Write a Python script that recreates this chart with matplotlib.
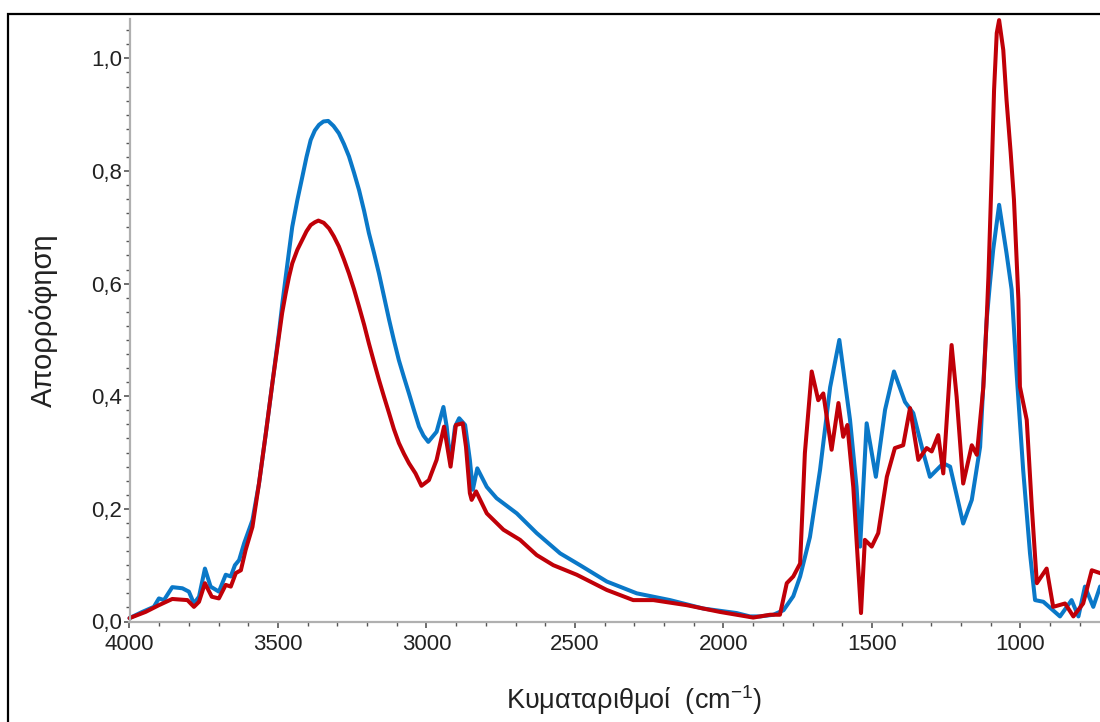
import numpy as np
import matplotlib
matplotlib.use("Agg")
import matplotlib.pyplot as plt
from matplotlib.patches import Rectangle
from matplotlib.ticker import MultipleLocator, FuncFormatter

plt.rcParams['font.family'] = ['Liberation Sans', 'DejaVu Sans']

# blue spectrum (wavenumber, absorbance)
blue_wn = [4000, 3957, 3918, 3901, 3884, 3856, 3822, 3800, 3783, 3766, 3746, 3727,
           3699, 3676, 3659, 3645, 3631, 3614, 3586, 3564, 3541, 3519, 3508, 3497,
           3486, 3474, 3463, 3452, 3435, 3418, 3404, 3390, 3376, 3362, 3347, 3331,
           3313, 3295, 3278, 3261, 3244, 3227, 3210, 3194, 3177, 3160, 3143, 3126,
           3110, 3093, 3076, 3059, 3042, 3025, 3010,
           2994, 2966, 2943, 2932, 2919, 2904, 2890, 2870, 2854, 2844,
           2829, 2797, 2764, 2696, 2629, 2550, 2483, 2393, 2292, 2180, 2068, 1956,
           1911, 1877, 1832, 1798, 1765, 1742, 1709, 1675, 1641, 1610, 1574, 1552,
           1540, 1518, 1487, 1456, 1426, 1389, 1361, 1327, 1305, 1260, 1237, 1193,
           1164, 1136, 1114, 1103, 1092, 1072, 1047, 1030, 1013, 991, 968, 951,
           923, 867, 828, 805, 783, 755, 732, 700]
blue_abs = [0.006, 0.017, 0.026, 0.041, 0.038, 0.061, 0.059, 0.053, 0.032, 0.044, 0.094, 0.062,
            0.053, 0.083, 0.080, 0.100, 0.109, 0.139, 0.180, 0.245, 0.334, 0.423, 0.468, 0.512,
            0.562, 0.612, 0.657, 0.701, 0.748, 0.790, 0.825, 0.855, 0.872, 0.882, 0.888, 0.889,
            0.880, 0.867, 0.848, 0.826, 0.797, 0.766, 0.729, 0.690, 0.655, 0.618, 0.577, 0.536,
            0.500, 0.464, 0.434, 0.405, 0.375, 0.346, 0.330,
            0.319, 0.337, 0.381, 0.346, 0.281, 0.346, 0.361, 0.349, 0.287, 0.234,
            0.272, 0.239, 0.219, 0.192, 0.157, 0.121, 0.100, 0.071, 0.050, 0.038, 0.023, 0.015,
            0.009, 0.009, 0.012, 0.020, 0.045, 0.080, 0.150, 0.269, 0.416, 0.500, 0.358, 0.239,
            0.133, 0.352, 0.257, 0.376, 0.444, 0.390, 0.370, 0.299, 0.257, 0.281, 0.275, 0.174,
            0.216, 0.310, 0.535, 0.600, 0.660, 0.740, 0.654, 0.590, 0.440, 0.269, 0.121, 0.038,
            0.035, 0.009, 0.038, 0.009, 0.062, 0.026, 0.062, 0.070]

# red spectrum (wavenumber, absorbance)
red_wn = [4000, 3946, 3901, 3856, 3805, 3783, 3766, 3746, 3723, 3699, 3676, 3659,
          3642, 3625, 3609, 3586, 3564, 3541, 3519, 3508, 3497, 3486, 3474, 3463,
          3452, 3435, 3418, 3404, 3390, 3376, 3364, 3346, 3328, 3312, 3295, 3278,
          3261, 3244, 3227, 3210, 3194, 3177, 3160, 3143, 3126, 3110, 3093, 3076,
          3059, 3048, 3037, 3017,
          2992, 2966, 2941, 2932, 2919, 2901, 2878, 2867, 2854, 2848, 2833, 2797,
          2741, 2685, 2629, 2573, 2494, 2393, 2304, 2236, 2124, 2012, 1900, 1843,
          1810, 1787, 1765, 1742, 1726, 1703, 1681, 1664, 1636, 1613, 1597, 1583,
          1563, 1537, 1524, 1501, 1479, 1450, 1423, 1395, 1372, 1344, 1316, 1299,
          1277, 1260, 1232, 1215, 1193, 1164, 1147, 1125, 1114, 1108, 1097, 1089,
          1080, 1072, 1058, 1047, 1033, 1022, 1007, 1002, 979, 962, 945, 912,
          890, 850, 822, 789, 760, 732, 700]
red_abs = [0.006, 0.017, 0.029, 0.040, 0.038, 0.026, 0.035, 0.068, 0.044, 0.041, 0.065, 0.062,
           0.086, 0.091, 0.127, 0.168, 0.245, 0.334, 0.423, 0.465, 0.506, 0.548, 0.583, 0.612,
           0.636, 0.660, 0.678, 0.693, 0.704, 0.709, 0.712, 0.708, 0.698, 0.684, 0.666, 0.643,
           0.618, 0.590, 0.559, 0.527, 0.494, 0.461, 0.429, 0.399, 0.370, 0.342, 0.317, 0.298,
           0.281, 0.272, 0.263, 0.241,
           0.251, 0.287, 0.346, 0.317, 0.275, 0.349, 0.352, 0.310, 0.228, 0.216, 0.231, 0.192,
           0.163, 0.145, 0.118, 0.100, 0.083, 0.056, 0.038, 0.038, 0.029, 0.017, 0.007, 0.012,
           0.012, 0.068, 0.080, 0.103, 0.299, 0.444, 0.393, 0.405, 0.305, 0.388, 0.328, 0.349,
           0.239, 0.015, 0.145, 0.133, 0.157, 0.257, 0.308, 0.313, 0.379, 0.287, 0.308, 0.302,
           0.331, 0.263, 0.491, 0.399, 0.245, 0.313, 0.296, 0.417, 0.535, 0.612, 0.796, 0.944,
           1.045, 1.068, 1.015, 0.926, 0.832, 0.749, 0.571, 0.417, 0.358, 0.204, 0.068, 0.094,
           0.026, 0.032, 0.009, 0.032, 0.091, 0.086, 0.080]

x_ticks = [4000, 3500, 3000, 2500, 2000, 1500, 1000]
y_ticks = [0.0, 0.2, 0.4, 0.6, 0.8, 1.0]

fig = plt.figure(figsize=(11, 7.22), dpi=100)
ax = fig.add_axes([129.5 / 1100, 100.5 / 722, 1009.8 / 1100, 602.5 / 722])

ax.plot(blue_wn, blue_abs, color='#0a78c8', lw=2.9, clip_on=False,
        solid_joinstyle='round', solid_capstyle='round')
ax.plot(red_wn, red_abs, color='#c00008', lw=2.9, clip_on=False,
        solid_joinstyle='round', solid_capstyle='round')

ax.set_xlim(4000, 600)
ax.set_ylim(0, 1.07)
ax.set_xticks(x_ticks)
ax.set_yticks(y_ticks)
ax.xaxis.set_minor_locator(MultipleLocator(100))
ax.yaxis.set_minor_locator(MultipleLocator(0.025))
ax.yaxis.set_major_formatter(FuncFormatter(lambda v, p: ('%.1f' % v).replace('.', ',')))

for s in ['top', 'right']:
    ax.spines[s].set_visible(False)
for s in ['left', 'bottom']:
    ax.spines[s].set_color('#b0b0b0')
    ax.spines[s].set_linewidth(1.6)

ax.tick_params(which='major', direction='out', length=4, width=1.2, color='#555555',
               labelsize=16, labelcolor='#222222')
ax.tick_params(axis='y', which='major', pad=1.5)
ax.tick_params(axis='x', which='major', pad=5)
ax.tick_params(which='minor', direction='out', length=3, width=1.0, color='#555555')

ax.set_xlabel('Κυματαριθμοί  (cm$\\mathregular{^{-1}}$)', fontsize=19.5, color='#222222',
              labelpad=20)
ax.set_ylabel('Απορρόφηση', fontsize=21, color='#222222', labelpad=24)

fig.patches.append(Rectangle((8 / 1100, -0.1), 2, (722 - 14) / 722 + 0.1,
                             transform=fig.transFigure, fill=False, lw=1.6, ec='black'))

fig.savefig('out.png', dpi=100)
